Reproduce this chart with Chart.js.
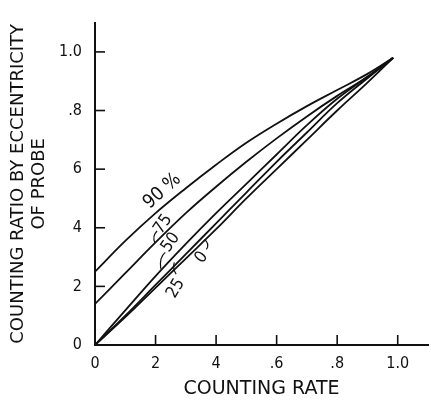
<!DOCTYPE html>
<html>
<head>
<meta charset="utf-8">
<script src="https://cdn.jsdelivr.net/npm/chart.js@4.4.1/dist/chart.umd.min.js"></script>
<style>
  html, body { margin: 0; padding: 0; background: #fff; }
  #wrap { width: 431px; height: 403px; }
</style>
</head>
<body>
<div id="wrap"><canvas id="chart" width="431" height="403"></canvas></div>
<script>
// Counting rate (x) shared by all curves
const countingRate = [0, 0.1, 0.2, 0.3, 0.4, 0.5, 0.6, 0.7, 0.8, 0.9, 0.985];

// Counting ratio for each eccentricity of probe
const ratio90 = [0.25, 0.355, 0.45, 0.535, 0.615, 0.69, 0.755, 0.815, 0.87, 0.925, 0.98];
const ratio75 = [0.14, 0.245, 0.35, 0.45, 0.54, 0.625, 0.705, 0.78, 0.85, 0.915, 0.98];
const ratio50 = [0, 0.118, 0.235, 0.345, 0.45, 0.55, 0.65, 0.75, 0.84, 0.915, 0.98];
const ratio25 = [0, 0.1, 0.205, 0.31, 0.415, 0.52, 0.625, 0.725, 0.825, 0.91, 0.98];
const ratio0 = [0, 0.095, 0.195, 0.295, 0.395, 0.5, 0.6, 0.7, 0.8, 0.895, 0.98];

const curveNames = ['90 %', '75', '50', '25', '0'];

// axis ticks, labelled the way the original drawing does
const tickValues = [0, 0.2, 0.4, 0.6, 0.8, 1.0];
const xTickLabels = ['0', '2', '4', '.6', '.8', '1.0'];
const yTickLabels = ['0', '2', '4', '6', '.8', '1.0'];

const NARROW = '"DejaVu Sans Condensed", "DejaVu Sans", sans-serif';
const WIDE = '"DejaVu Sans", sans-serif';

// where the curve names sit (data units) and their small leader hooks
const nameSpots = [
  { x: 0.222, y: 0.525, rot: -42, size: 19 },
  { x: 0.225, y: 0.412, rot: -55, size: 17 },
  { x: 0.25, y: 0.35, rot: -55, size: 17 },
  { x: 0.267, y: 0.193, rot: -60, size: 17 },
  { x: 0.352, y: 0.299, rot: -55, size: 17 }
];
const hooks = [
  null,
  [0.205, 0.389, 0.188, 0.372, 0.198, 0.348],
  [0.232, 0.316, 0.212, 0.30, 0.217, 0.26],
  [0.268, 0.242, 0.255, 0.262, 0.262, 0.282],
  [0.368, 0.326, 0.38, 0.345, 0.362, 0.36]
];

function makeSet(values) {
  return {
    data: countingRate.map((x, i) => ({ x: x, y: values[i] })),
    borderColor: '#111',
    borderWidth: 1.8,
    pointRadius: 0,
    fill: false,
    tension: 0.4
  };
}

// inward tick marks, curve names and leader hooks
const decorations = {
  id: 'decorations',
  afterDraw(chart) {
    const ctx = chart.ctx;
    const xs = chart.scales.x;
    const ys = chart.scales.y;
    const left = xs.getPixelForValue(0);
    const bottom = ys.getPixelForValue(0);
    ctx.save();
    ctx.strokeStyle = '#111';
    ctx.lineWidth = 1.6;
    tickValues.forEach(v => {
      if (v === 0) return;
      const px = xs.getPixelForValue(v);
      ctx.beginPath();
      ctx.moveTo(px, bottom);
      ctx.lineTo(px, bottom - 10);
      ctx.stroke();
      const py = ys.getPixelForValue(v);
      ctx.beginPath();
      ctx.moveTo(left, py);
      ctx.lineTo(left + 10, py);
      ctx.stroke();
    });

    ctx.lineWidth = 1.2;
    hooks.forEach(h => {
      if (!h) return;
      ctx.beginPath();
      ctx.moveTo(xs.getPixelForValue(h[0]), ys.getPixelForValue(h[1]));
      ctx.quadraticCurveTo(xs.getPixelForValue(h[2]), ys.getPixelForValue(h[3]),
        xs.getPixelForValue(h[4]), ys.getPixelForValue(h[5]));
      ctx.stroke();
    });

    ctx.fillStyle = '#111';
    ctx.textAlign = 'center';
    ctx.textBaseline = 'middle';
    curveNames.forEach((name, i) => {
      const s = nameSpots[i];
      ctx.save();
      ctx.translate(xs.getPixelForValue(s.x), ys.getPixelForValue(s.y));
      ctx.rotate(s.rot * Math.PI / 180);
      ctx.font = s.size + 'px ' + NARROW;
      ctx.fillText(name, 0, 0);
      ctx.restore();
    });
    ctx.restore();
  }
};

new Chart(document.getElementById('chart'), {
  type: 'line',
  data: {
    datasets: [makeSet(ratio90), makeSet(ratio75), makeSet(ratio50), makeSet(ratio25), makeSet(ratio0)]
  },
  options: {
    responsive: false,
    animation: false,
    layout: { padding: { top: 13, right: 3, left: 0, bottom: 0 } },
    plugins: { legend: { display: false }, tooltip: { enabled: false } },
    scales: {
      x: {
        type: 'linear',
        min: 0,
        max: 1.1,
        grid: { display: false, drawTicks: false },
        border: { display: true, color: '#111', width: 2 },
        afterBuildTicks: s => { s.ticks = tickValues.map(v => ({ value: v })); },
        afterFit: s => { s.height = 58; },
        ticks: {
          color: '#111',
          padding: 9,
          maxRotation: 0,
          font: { family: NARROW, size: 16 },
          callback: (v, i) => xTickLabels[i]
        },
        title: {
          display: true,
          text: 'COUNTING RATE',
          color: '#111',
          font: { family: WIDE, size: 19, lineHeight: 1.2 },
          padding: { top: 0, bottom: 3 }
        }
      },
      y: {
        type: 'linear',
        min: 0,
        max: 1.1,
        grid: { display: false, drawTicks: false },
        border: { display: true, color: '#111', width: 2 },
        afterBuildTicks: s => { s.ticks = tickValues.map(v => ({ value: v })); },
        afterFit: s => { s.width = 95; },
        ticks: {
          color: '#111',
          padding: 13,
          font: { family: NARROW, size: 16 },
          callback: (v, i) => yTickLabels[i]
        },
        title: {
          display: true,
          text: ['COUNTING RATIO BY ECCENTRICITY', 'OF PROBE'],
          color: '#111',
          font: { family: WIDE, size: 18, lineHeight: 1.15 },
          padding: { top: 8, bottom: 0 }
        }
      }
    }
  },
  plugins: [decorations]
});
</script>
</body>
</html>
